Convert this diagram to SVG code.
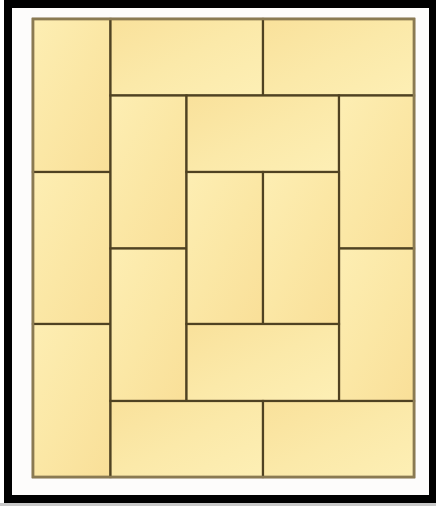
<svg xmlns="http://www.w3.org/2000/svg" width="436" height="506" viewBox="0 0 436 506">
<defs>
<linearGradient id="gv" x1="0" y1="0" x2="1" y2="1">
<stop offset="0" stop-color="#fdeeb3"/>
<stop offset="0.5" stop-color="#fbe7a5"/>
<stop offset="1" stop-color="#f9df98"/>
</linearGradient>
<linearGradient id="gh" x1="0" y1="0" x2="1" y2="1">
<stop offset="0" stop-color="#f9e19b"/>
<stop offset="0.5" stop-color="#fbe9a9"/>
<stop offset="1" stop-color="#fdefb5"/>
</linearGradient>
</defs>
<style>
.t{stroke:#4f4222;stroke-width:2.2}
.v{fill:url(#gv)}
.h{fill:url(#gh)}
</style>
<rect x="0" y="0" width="436" height="506" fill="#ffffff"/>
<rect x="0" y="503" width="436" height="3" fill="#c9c9c9"/>
<rect x="8" y="4" width="425" height="495" fill="#fdfcfb" stroke="#000000" stroke-width="8"/>
<g id="tiles">
<rect x="33" y="19" width="381" height="458" fill="#fbe7a5" stroke="#8a7a52" stroke-width="2.5"/>
<g id="t1"><rect class="t v" x="33" y="19" width="77.5" height="153"/></g>
<g id="t2"><rect class="t v" x="33" y="172" width="77.5" height="152"/></g>
<g id="t3"><rect class="t v" x="33" y="324" width="77.5" height="153"/></g>
<g id="t4"><rect class="t h" x="110.5" y="19" width="152.5" height="76.5"/></g>
<g id="t5"><rect class="t h" x="263" y="19" width="151" height="76.5"/></g>
<g id="t6"><rect class="t v" x="110.5" y="95.5" width="76" height="153"/></g>
<g id="t7"><rect class="t v" x="110.5" y="248.5" width="76" height="152.5"/></g>
<g id="t8"><rect class="t h" x="186.5" y="95.5" width="152.5" height="76.5"/></g>
<g id="t9"><rect class="t v" x="339" y="95.5" width="75" height="153"/></g>
<g id="t10"><rect class="t v" x="339" y="248.5" width="75" height="152.5"/></g>
<g id="t11"><rect class="t v" x="186.5" y="172" width="76.5" height="152"/></g>
<g id="t12"><rect class="t v" x="263" y="172" width="76" height="152"/></g>
<g id="t13"><rect class="t h" x="186.5" y="324" width="152.5" height="77"/></g>
<g id="t14"><rect class="t h" x="110.5" y="401" width="152.5" height="76"/></g>
<g id="t15"><rect class="t h" x="263" y="401" width="151" height="76"/></g>
</g>
<rect x="33" y="19" width="381" height="458" fill="none" stroke="#8a7a52" stroke-width="2.5"/>
</svg>
